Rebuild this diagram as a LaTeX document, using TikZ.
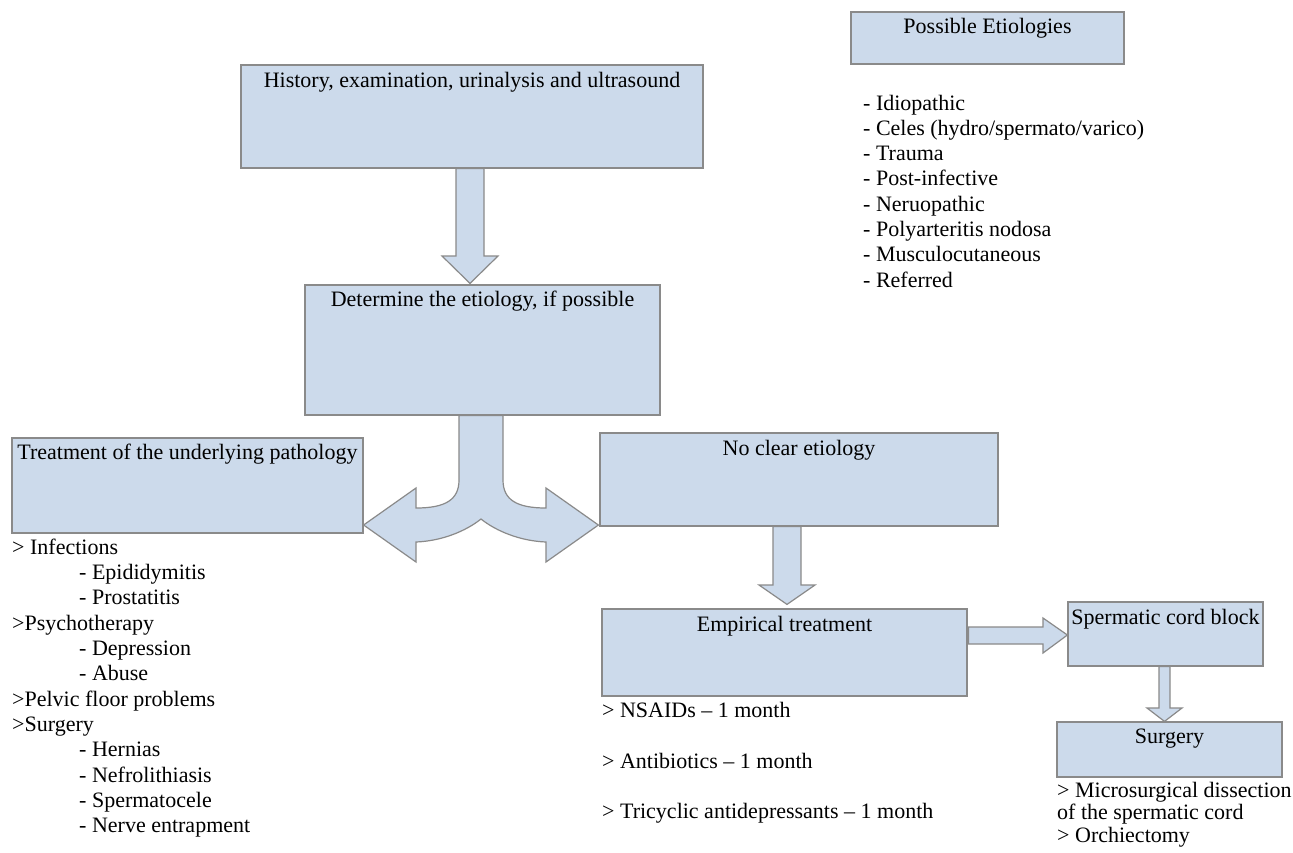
\documentclass[tikz,border=0pt]{standalone}
\usepackage{fontspec}
\setmainfont{Liberation Serif}
\usetikzlibrary{calc}
\definecolor{bfill}{RGB}{204,218,235}
\definecolor{bline}{RGB}{138,138,138}
\begin{document}
\begin{tikzpicture}[x=1pt,y=-1pt,
  box/.style={draw=bline, fill=bfill, line width=1.2pt, inner sep=0pt, rectangle},
  barrow/.style={draw=bline, fill=bfill, line width=1.2pt, line join=miter},
  txt/.style={inner sep=0pt, font=\fontsize{22}{25.3}\selectfont},
  lst/.style={inner sep=0pt, anchor=base west, font=\fontsize{22}{25.3}\selectfont}]
\useasboundingbox[fill=white] (0,0) rectangle (1293,852);

% boxes
\node[box, minimum width=273, minimum height=52] (pe) at (987.5,38) {};
\node[box, minimum width=462, minimum height=103] (h) at (472,116.5) {};
\node[box, minimum width=355, minimum height=130] (d) at (482.5,350) {};
\node[box, minimum width=351, minimum height=95] (t) at (187.5,485.5) {};
\node[box, minimum width=398, minimum height=93] (n) at (799,479.5) {};
\node[box, minimum width=365, minimum height=87] (e) at (784.5,652.5) {};
\node[box, minimum width=195, minimum height=64] (s) at (1165.5,634) {};
\node[box, minimum width=225, minimum height=55] (g) at (1169.5,749.5) {};

% box titles
\node[txt, anchor=base] (pe-t) at (987.5,33) {Possible Etiologies};
\node[txt, anchor=base] (h-t) at (472,87) {History, examination, urinalysis and ultrasound};
\node[txt, anchor=base] (d-t) at (482.5,306) {Determine the etiology, if possible};
\node[txt, anchor=base] (t-t) at (187.5,459) {Treatment of the underlying pathology};
\node[txt, anchor=base] (n-t) at (799,455) {No clear etiology};
\node[txt, anchor=base] (e-t) at (784.5,631) {Empirical treatment};
\node[txt, anchor=base] (s-t) at (1165.5,624) {Spermatic cord block};
\node[txt, anchor=base] (g-t) at (1169.5,743) {Surgery};

% block arrows
\draw[barrow] (456,0 |- h.south) -- (456,256) -- (442,256) -- ($(470,0 |- d.north)+(0,-1)$)
  -- (498,256) -- (484,256) -- (484,0 |- h.south) -- cycle;
\draw[barrow] (459,0 |- d.south) -- (459,480) .. controls (459,500) and (445,508) .. (416,508)
  -- (416,488) -- (t.east |- 0,525) -- (416,562) -- (416,542)
  .. controls (442,541) and (466,531) .. (481,519)
  .. controls (496,531) and (520,541) .. (546,542)
  -- (546,562) -- ($(n.west |- 0,525)+(-1,0)$) -- (546,488) -- (546,508)
  .. controls (517,508) and (503,500) .. (503,480) -- (503,0 |- d.south) -- cycle;
\draw[barrow] (773,0 |- n.south) -- (773,585) -- (759,585) -- ($(787,0 |- e.north)+(0,-4)$)
  -- (815,585) -- (801,585) -- (801,0 |- n.south) -- cycle;
\draw[barrow] ($(e.east |- 0,627)+(1,0)$) -- (1043,627) -- (1043,618) -- (s.west |- 0,635)
  -- (1043,653) -- (1043,644) -- ($(e.east |- 0,644)+(1,0)$) -- cycle;
\draw[barrow] (1159,0 |- s.south) -- (1159,708) -- (1147,708) -- (1164.5,0 |- g.north)
  -- (1182,708) -- (1170,708) -- (1170,0 |- s.south) -- cycle;

% lists
\foreach \t [count=\i] in {{- Idiopathic},{- Celes (hydro/spermato/varico)},{- Trauma},{- Post-infective},{- Neruopathic},{- Polyarteritis nodosa},{- Musculocutaneous},{- Referred}}
  \node[lst] (et\i) at (863,{110+25.3*(\i-1)}) {\t};

\foreach \t/\xx [count=\i] in {{> Infections}/12,{- Epididymitis}/79,{- Prostatitis}/79,{>Psychotherapy}/12,{- Depression}/79,{- Abuse}/79,{>Pelvic floor problems}/12,{>Surgery}/12,{- Hernias}/79,{- Nefrolithiasis}/79,{- Spermatocele}/79,{- Nerve entrapment}/79}
  \node[lst] (tl\i) at (\xx,{554+25.36*(\i-1)}) {\t};

\node[lst] (el1) at (602,717) {> NSAIDs – 1 month};
\node[lst] (el2) at (602,768) {> Antibiotics – 1 month};
\node[lst] (el3) at (602,818) {> Tricyclic antidepressants – 1 month};

\node[lst] (gl1) at (1057,797) {> Microsurgical dissection};
\node[lst] (gl2) at (1057,819.5) {of the spermatic cord};
\node[lst] (gl3) at (1057,842) {> Orchiectomy};
\end{tikzpicture}
\end{document}
